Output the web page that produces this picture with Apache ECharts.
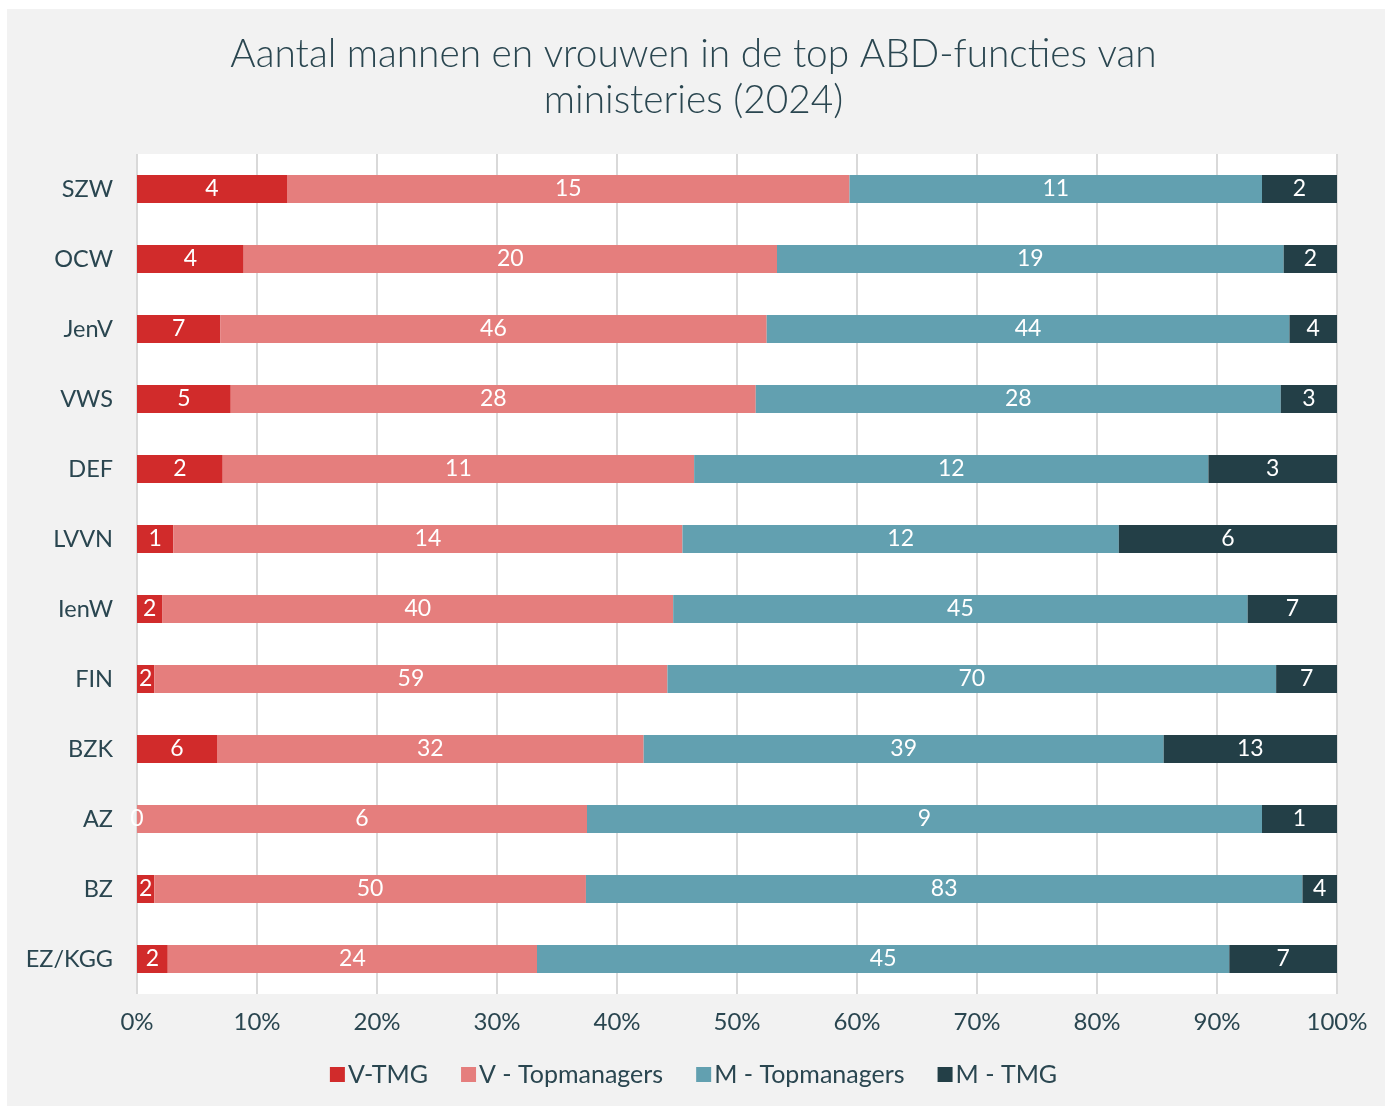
<!DOCTYPE html>
<html>
<head>
<meta charset="utf-8">
<script src="https://cdn.jsdelivr.net/npm/echarts@6/dist/echarts.min.js"></script>
<style>
  html, body { margin: 0; padding: 0; background: #fff; }
  #chart { width: 1387px; height: 1106px; }
</style>
</head>
<body>
<div id="chart"></div>
<script>
// ministeries, van boven naar beneden
const categories = ['SZW', 'OCW', 'JenV', 'VWS', 'DEF', 'LVVN', 'IenW', 'FIN', 'BZK', 'AZ', 'BZ', 'EZ/KGG']
const vTmg = [4, 4, 7, 5, 2, 1, 2, 2, 6, 0, 2, 2]
const vTop = [15, 20, 46, 28, 11, 14, 40, 59, 32, 6, 50, 24]
const mTop = [11, 19, 44, 28, 12, 12, 45, 70, 39, 9, 83, 45]
const mTmg = [2, 2, 4, 3, 3, 6, 7, 7, 13, 1, 4, 7]
const seriesNames = ['V-TMG', 'V - Topmanagers', 'M - Topmanagers', 'M - TMG']
const colors = ['#d12b2b', '#e57e7d', '#62a0b0', '#233f47']

const groups = [vTmg, vTop, mTop, mTmg]
const totals = categories.map((c, i) => groups.reduce((s, g) => s + g[i], 0))

const textColor = '#2a4650'
const font = 'Lato'

const chart = echarts.init(document.getElementById('chart'))
chart.setOption({
  backgroundColor: '#ffffff',
  textStyle: { fontFamily: font },
  animation: false,
  graphic: [{
    type: 'rect',
    z: -10,
    shape: { x: 7, y: 9, width: 1378, height: 1097 },
    style: { fill: '#f2f2f2' }
  }],
  title: {
    text: 'Aantal mannen en vrouwen in de top ABD-functies van\nministeries (2024)',
    left: 'center',
    top: 26,
    textStyle: {
      color: textColor,
      fontFamily: font,
      fontWeight: 300,
      fontSize: 38.8,
      lineHeight: 46
    }
  },
  legend: {
    bottom: 14,
    left: 'center',
    itemWidth: 15,
    itemHeight: 15,
    itemGap: 33,
    icon: 'rect',
    textStyle: { color: textColor, fontSize: 25, fontFamily: font, padding: [0, 0, 0, -2] },
    data: seriesNames
  },
  grid: {
    left: 137,
    right: 50,
    top: 154,
    bottom: 112,
    show: true,
    backgroundColor: '#ffffff',
    borderWidth: 0
  },
  xAxis: {
    type: 'value',
    min: 0,
    max: 100,
    interval: 10,
    axisLine: { show: false },
    axisTick: { show: false },
    splitLine: { show: true, lineStyle: { color: '#d9d9d9', width: 2 } },
    axisLabel: {
      color: textColor,
      fontSize: 24,
      margin: 16,
      fontFamily: font,
      formatter: v => v + '%'
    }
  },
  yAxis: {
    type: 'category',
    inverse: true,
    data: categories,
    axisLine: { show: false },
    axisTick: { show: false },
    axisLabel: { color: textColor, fontSize: 23.5, margin: 24, fontFamily: font }
  },
  series: groups.map((g, k) => ({
    name: seriesNames[k],
    type: 'bar',
    stack: 'totaal',
    barWidth: 28,
    itemStyle: { color: colors[k] },
    label: {
      show: true,
      position: 'inside',
      color: '#ffffff',
      fontSize: 23,
      fontFamily: font,
      formatter: p => g[p.dataIndex]
    },
    data: g.map((v, i) => v / totals[i] * 100)
  }))
})
</script>
</body>
</html>
